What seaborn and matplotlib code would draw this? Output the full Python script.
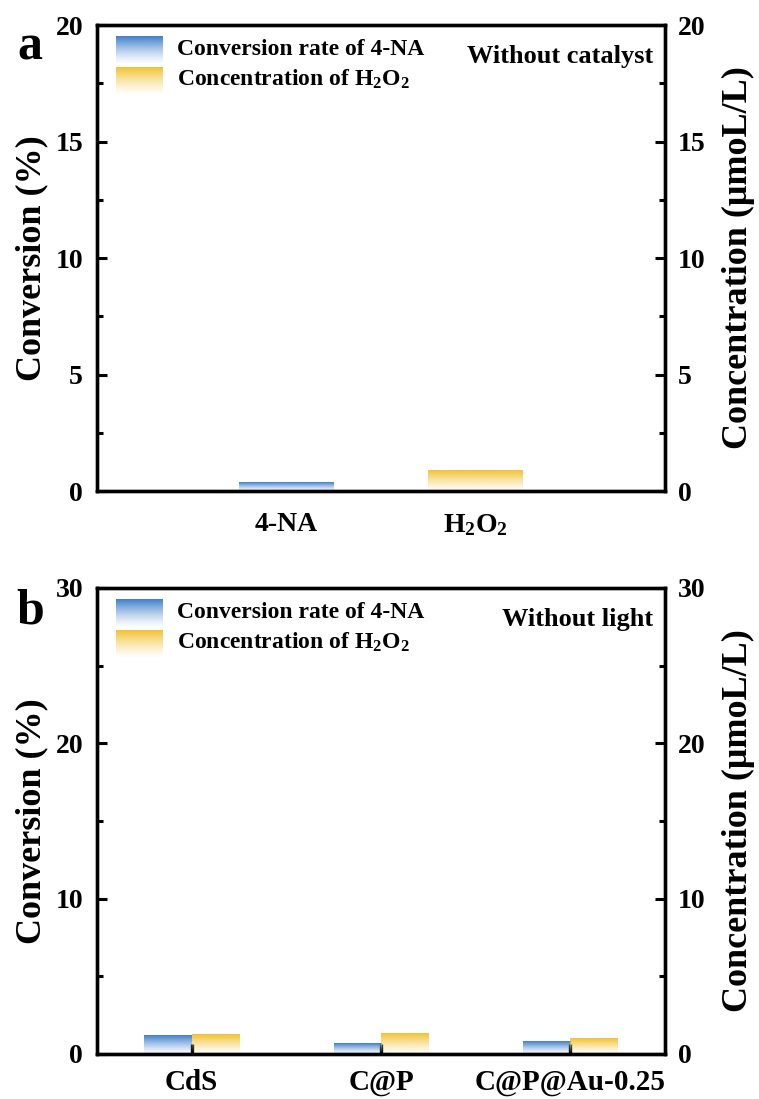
import numpy as np
import pandas as pd
import matplotlib
matplotlib.use("Agg")
import matplotlib.pyplot as plt
import seaborn as sns
from matplotlib.colors import to_rgb
from matplotlib.legend_handler import HandlerBase
from matplotlib.image import BboxImage
from matplotlib.transforms import Bbox, TransformedBbox
from matplotlib.patches import Rectangle
from matplotlib.ticker import MultipleLocator

sns.set_theme(style="white")
plt.rcParams['font.family'] = ['Liberation Serif', 'DejaVu Serif']
plt.rcParams['font.weight'] = 'bold'
plt.rcParams['axes.labelweight'] = 'bold'
plt.rcParams['text.color'] = 'black'
plt.rcParams['axes.labelcolor'] = 'black'
plt.rcParams['xtick.color'] = 'black'
plt.rcParams['ytick.color'] = 'black'
plt.rcParams['mathtext.fontset'] = 'custom'
plt.rcParams['mathtext.rm'] = 'Liberation Serif:bold'
plt.rcParams['mathtext.it'] = 'Liberation Serif:bold'
plt.rcParams['mathtext.bf'] = 'Liberation Serif:bold'

# ---------------- data ----------------
series_names = ["Conversion rate of 4-NA", "Concentration of H$_2$O$_2$"]
series_colors = ["#3f7fcc", "#f2c232"]

a_categories = ["4-NA", "H$_2$O$_2$"]
a_values = [0.38, 0.86]          # conversion (%) of 4-NA, concentration of H2O2 (umol/L)
a_note = "Without catalyst"
a_yticks = [0, 5, 10, 15, 20]

b_categories = ["CdS", "C@P", "C@P@Au-0.25"]
b_conversion = [1.16, 0.68, 0.80]
b_concentration = [1.24, 1.33, 0.98]
b_note = "Without light"
b_yticks = [0, 10, 20, 30]

left_label = "Conversion (%)"
right_label = "Concentration (μmoL/L)"

# ---------------- helpers ----------------
def grad_array(color, n=128):
    r, g, b = to_rgb(color)
    t = np.linspace(0, 1, n)  # 0 bottom -> 1 top
    alpha = 0.03 + 0.97 * t ** 1.3
    arr = np.zeros((n, 1, 4))
    arr[:, 0, 0] = r
    arr[:, 0, 1] = g
    arr[:, 0, 2] = b
    arr[:, 0, 3] = alpha
    return arr


def gradientize(ax):
    for p in list(ax.patches):
        if p.get_height() <= 0:
            continue
        x0, y0 = p.get_x(), p.get_y()
        w, h = p.get_width(), p.get_height()
        col = p.get_facecolor()
        ax.imshow(grad_array(col), extent=[x0, x0 + w, y0, y0 + h],
                  origin='lower', aspect='auto', interpolation='bilinear',
                  zorder=p.get_zorder())
        p.set_facecolor('none')
        p.set_edgecolor('none')


class GradHandler(HandlerBase):
    def __init__(self, color):
        super().__init__()
        self.color = color

    def create_artists(self, legend, orig_handle, xdescent, ydescent,
                       width, height, fontsize, trans):
        bb = Bbox.from_bounds(-xdescent, -ydescent - 0.25 * height, width, height * 1.25)
        tbb = TransformedBbox(bb, trans)
        img = BboxImage(tbb, interpolation='bilinear')
        img.set_data(grad_array(self.color)[::-1])
        return [img]


def style_axes(ax, ax2, yticks, xticks_visible, xsize, xpad):
    ylim = (yticks[0], yticks[-1])
    step = yticks[1] - yticks[0]
    for a in (ax, ax2):
        a.set_ylim(*ylim)
        a.yaxis.set_major_locator(MultipleLocator(step))
        a.yaxis.set_minor_locator(MultipleLocator(step / 2))
        for s in a.spines.values():
            s.set_linewidth(2.4)
            s.set_color('black')
    ax.tick_params(axis='y', which='major', direction='in', length=7, width=2.2,
                   labelsize=20, pad=10, left=True, right=False, colors='black')
    ax.tick_params(axis='y', which='minor', direction='in', length=4, width=2.2, left=True, right=False)
    ax2.tick_params(axis='y', which='major', direction='in', length=7, width=2.2,
                    labelsize=20, pad=9, right=True, left=False, colors='black')
    ax2.tick_params(axis='y', which='minor', direction='in', length=4, width=2.2, right=True, left=False)
    ax.tick_params(axis='x', which='major', direction='in',
                   length=7 if xticks_visible else 0, width=2.4,
                   labelsize=xsize, pad=xpad, bottom=True, colors='black')
    ax.tick_params(axis='x', which='minor', bottom=False, top=False)
    ax2.tick_params(axis='x', which='both', bottom=False, top=False)
    for lab in ax.get_yticklabels() + ax2.get_yticklabels() + ax.get_xticklabels():
        lab.set_fontweight('bold')
    ax.set_xlabel("")
    ax.set_ylabel(left_label, fontsize=26, fontweight='bold')
    ax2.set_ylabel(right_label, fontsize=26, fontweight='bold')
    ax.yaxis.set_label_coords(-0.085, 0.5)
    ax2.yaxis.set_label_coords(1.10, 0.5)


def add_legend(ax):
    handles = [Rectangle((0, 0), 1, 1, color=c) for c in series_colors]
    hmap = {h: GradHandler(c) for h, c in zip(handles, series_colors)}
    ax.legend(handles, series_names, handler_map=hmap, loc='upper left',
              bbox_to_anchor=(0.033, 0.975), frameon=False, borderpad=0,
              borderaxespad=0, handlelength=1.95, handleheight=1.0,
              handletextpad=0.65, labelspacing=0.3,
              prop={'size': 17, 'weight': 'bold'})


fig = plt.figure(figsize=(7.59, 10.99), dpi=100)
axA = fig.add_axes([0.1278, 0.5532, 0.7484, 0.4240])
axB = fig.add_axes([0.1278, 0.0410, 0.7484, 0.4240])

# ---------------- panel a ----------------
dfa = pd.DataFrame({"category": a_categories, "series": series_names, "value": a_values})
sns.barplot(data=dfa, x="category", y="value", hue="series", order=a_categories,
            hue_order=series_names, palette=series_colors, dodge=False,
            width=0.5, legend=False, ax=axA, saturation=1)
gradientize(axA)
axA.set_xlim(-1.0, 2.0)
axA2 = axA.twinx()
style_axes(axA, axA2, a_yticks, False, 20, 15)
add_legend(axA)
axA.text(0.979, 0.932, a_note, transform=axA.transAxes, ha='right', va='center',
         fontsize=19, fontweight='bold')

# ---------------- panel b ----------------
dfb = pd.DataFrame({
    "category": b_categories * 2,
    "series": [series_names[0]] * len(b_categories) + [series_names[1]] * len(b_categories),
    "value": b_conversion + b_concentration,
})
sns.barplot(data=dfb, x="category", y="value", hue="series", order=b_categories,
            hue_order=series_names, palette=series_colors, dodge=True,
            width=0.5, gap=0, legend=False, ax=axB, saturation=1)
gradientize(axB)
axB.set_xlim(-0.5, 2.5)
axB2 = axB.twinx()
style_axes(axB, axB2, b_yticks, True, 21, 11)
add_legend(axB)
axB.text(0.979, 0.932, b_note, transform=axB.transAxes, ha='right', va='center',
         fontsize=19, fontweight='bold')

fig.text(0.040, 0.9463, "a", fontsize=36, fontweight='bold', ha='center', va='baseline')
fig.text(0.040, 0.4331, "b", fontsize=36, fontweight='bold', ha='center', va='baseline')

fig.savefig("out.png", dpi=100)
